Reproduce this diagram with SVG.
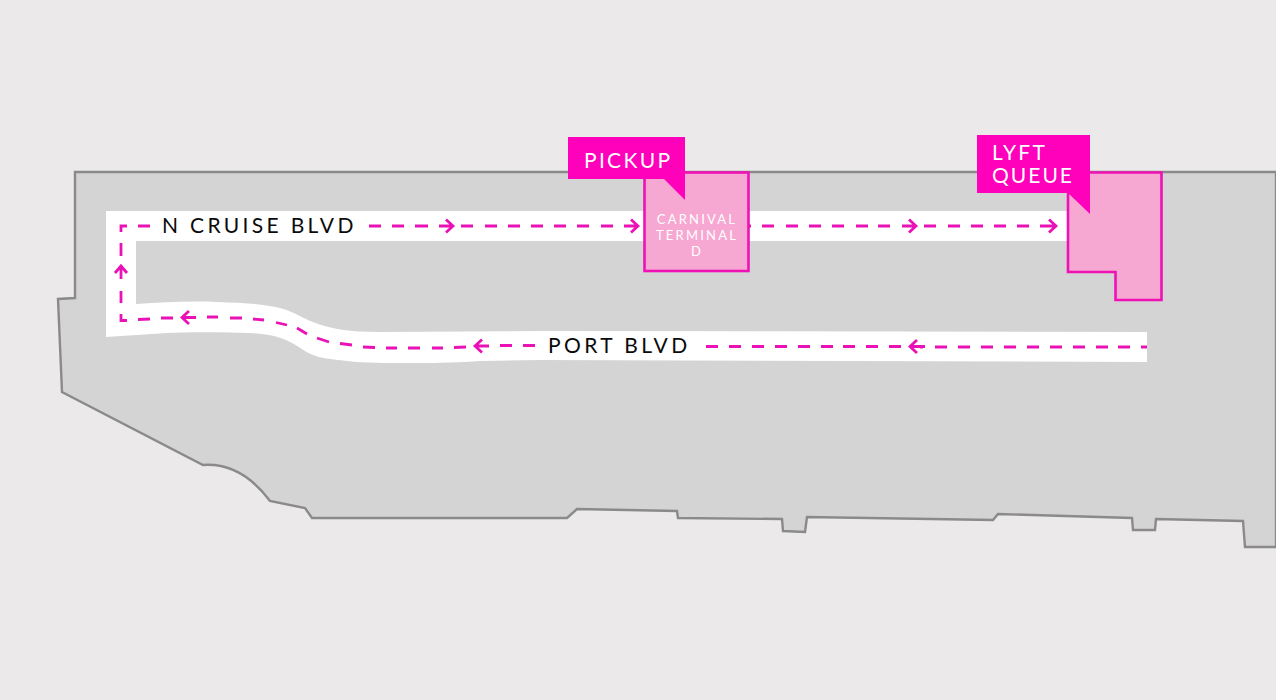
<svg xmlns="http://www.w3.org/2000/svg" width="1276" height="700" viewBox="0 0 1276 700">
<style>
text{font-family:"Lato","Liberation Sans",sans-serif}
.road{font-size:21px;fill:#0a0a0a}
.call{font-size:21px;fill:#fff}
.small{font-size:13px;letter-spacing:2.2px;fill:#fff;text-anchor:middle}
.dash{fill:none;stroke:#ea12b6;stroke-width:2.8}
.head{fill:none;stroke:#ea12b6;stroke-width:2.8}
.bld{fill:#f7a8d2;stroke:#ee12b4;stroke-width:2.6}
.tag{fill:#ff00bb}
</style>
<rect width="1276" height="700" fill="#ebe9ea"/>
<path id="land" d="M75,172 L1276,172 L1276,547 L1245,547 L1243,521 L1156,519 L1155,530 L1133,530 L1132,518 L998,514 L993,520 L807,517 L805,532 L783,531 L782,519 L678,518 L677,511 L577,509 L567,518 L312,518 L305,508 L270,501 C252,477 231,463 203,465 L62,392 L58,299 L75,298 Z" fill="#d4d4d4" stroke="#8a8a8a" stroke-width="2.4"/>
<path id="roads" d="M106,211 L1070,211 L1070,241 L136,241 L136,304 C165,302 190,301 217,302 C245,303 265,304 280,308 C297,313 302,318 313,322 C330,329 350,332 380,332 L540,331 L1147,332 L1147,362 L540,360 L480,361 C450,363 430,363 413,363 C385,363 365,363 347,361 C330,359 320,358 313,355 C305,352 300,347 290,342 C280,337 270,334 250,333 C225,332 190,332 167,333 L106,337 Z" fill="#fff"/>
<g id="connectors">
<path class="dash" d="M121,232 V226 H127 M138,226 H150 M369,226 H381 M392,226 H404 M415,226 H428 M461,226 H473 M485,226 H497 M508,226 H520 M531,226 H543 M554,226 H566 M577,226 H589 M601,226 H613 M748,226 H751 M762,226 H774 M786,226 H798 M809,226 H821 M832,226 H844 M856,226 H868 M878,226 H890 M924,226 H936 M948,226 H960 M971,226 H983 M994,226 H1006 M1017,226 H1029"/>
<path class="dash" d="M121,243 V256 M121,291 V303 M121,314 V320.500 H127 M138,319.500 L150,319 M161,318 L173,318 M207,317 L218,317 M230,318 L242,318 M253,319 L264,320 M276,322.500 L287,325 M297,328 L307,334 M317,338 L329,342 M340,343.500 L352,345 M363,347 L375,347.500 M386,348 H397 M408,348 H420 M432,348 H443 M454,347.500 L466,347 M500,345.500 H512 M523,345.500 H535"/>
<path class="dash" d="M706,346.500 H718 M729,346.500 H741 M752,346.500 H764 M775,346.500 H787 M798,346.500 H810 M821,346.500 H833 M843,346.500 H855 M866,346.500 H878 M889,346.500 H901 M920,347 H923 M935,347 H947 M958,347 H970 M981,347 H993 M1004,347 H1016 M1027,347 H1039 M1050,347 H1062 M1073,347 H1085 M1096,347 H1108 M1118,347 H1130 M1141,347 H1147"/>
<path class="head" d="M446,219.500 L453,226 L446,232.500 M439,226 H452"/>
<path class="head" d="M631,219.500 L638,226 L631,232.500 M624,226 H637"/>
<path class="head" d="M909,219.500 L916,226 L909,232.500 M902,226 H915"/>
<path class="head" d="M1049,219.500 L1056,226 L1049,232.500 M1040,226 H1055"/>
<path class="head" d="M115,273 L121,266 L127,273 M121,267 V279"/>
<path class="head" d="M189,311 L182,317.500 L189,324 M183,317.500 H196"/>
<path class="head" d="M482,339.500 L475,346 L482,352.500 M476,346 H489"/>
<path class="head" d="M917,340 L910,346.500 L917,353 M911,346.500 H925"/>
</g>
<g id="road-labels">
<text class="road" x="162" y="233" letter-spacing="3.330">N CRUISE BLVD</text>
<text class="road" x="548" y="353" letter-spacing="3.400">PORT BLVD</text>
</g>
<g id="carnival-terminal">
<rect class="bld" x="644.500" y="172.500" width="104" height="98.500"/>
<text class="small" x="697" y="224">CARNIVAL</text>
<text class="small" x="697" y="240">TERMINAL</text>
<text class="small" x="697" y="256">D</text>
</g>
<g id="lyft-area">
<path class="bld" d="M1068,172.500 H1161.500 V300 H1115.500 V272 H1068 Z"/>
</g>
<g id="pickup">
<path class="tag" d="M568,137 H685 V200 L664,179 H568 Z"/>
<text class="call" x="584" y="168" letter-spacing="2.300">PICKUP</text>
</g>
<g id="lyft-queue">
<path class="tag" d="M977,135 H1090 V214 L1068,193 H977 Z"/>
<text class="call" x="992" y="160" letter-spacing="2.200">LYFT</text>
<text class="call" x="992" y="183" letter-spacing="2">QUEUE</text>
</g>
</svg>
